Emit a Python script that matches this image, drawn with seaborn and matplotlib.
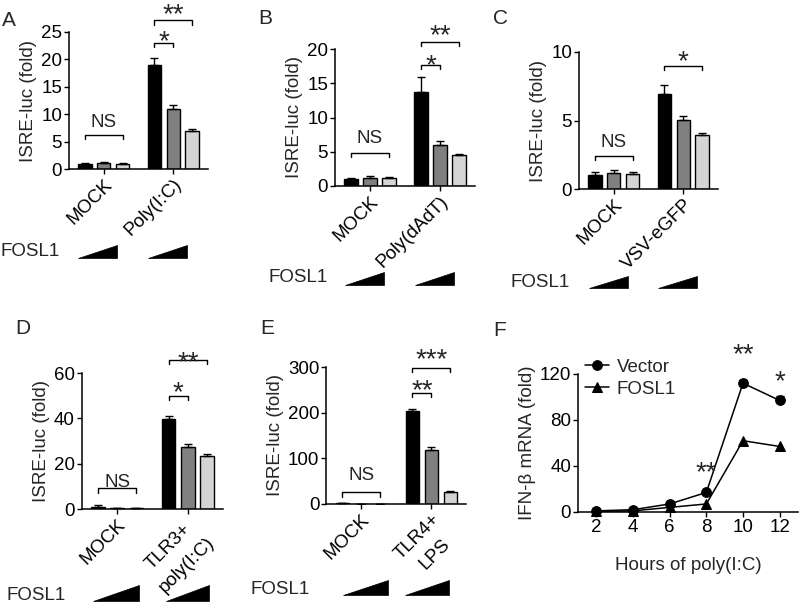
import numpy as np
import pandas as pd
import matplotlib
matplotlib.use('Agg')
import matplotlib.pyplot as plt
import matplotlib.transforms as mtransforms
from matplotlib.patches import Polygon
import seaborn as sns

sns.set_style('ticks')
plt.rcParams['font.family'] = ['Liberation Sans', 'DejaVu Sans']
plt.rcParams['font.size'] = 13.5
plt.rcParams['axes.linewidth'] = 1.0

FS = 13.5
DOSES = ['low', 'mid', 'high']
BAR_COLORS = ['#000000', '#808080', '#d4d4d4']

# ── data (group-major: each group = low, mid, high FOSL1) ─────────────────
a_groups = ['MOCK', 'Poly(I:C)']
a_mean = [1.0, 1.1, 1.0, 19.0, 11.0, 6.9]
a_err = [0.15, 0.15, 0.1, 1.2, 0.6, 0.35]

b_groups = ['MOCK', 'Poly(dAdT)']
b_mean = [1.0, 1.2, 1.1, 13.7, 6.0, 4.5]
b_err = [0.2, 0.2, 0.15, 2.2, 0.6, 0.15]

c_groups = ['MOCK', 'VSV-eGFP']
c_mean = [1.0, 1.15, 1.1, 6.9, 5.05, 3.95]
c_err = [0.25, 0.25, 0.15, 0.7, 0.3, 0.15]

d_groups = ['MOCK', 'TLR3+\npoly(I:C)']
d_mean = [1.0, 0.4, 0.4, 39.5, 27.3, 23.3]
d_err = [0.6, 0.2, 0.2, 1.5, 1.5, 1.0]

e_groups = ['MOCK', 'TLR4+\nLPS']
e_mean = [1.5, 0.5, 0.5, 204.0, 119.0, 27.0]
e_err = [0.5, 0.2, 0.2, 3.0, 5.0, 2.0]

f_hours = [2, 4, 6, 8, 10, 12]
f_vector = [1.0, 2.0, 7.0, 17.0, 112.0, 97.0]
f_vector_err = [0.3, 0.5, 1.0, 1.5, 3.0, 4.0]
f_fosl1 = [0.5, 1.0, 4.0, 7.0, 62.0, 57.0]
f_stars = ['**', '**', '*']
f_star_hours = [8, 10, 12]

W, H = 800, 604
fig = plt.figure(figsize=(8, 6.04), dpi=100)


def px_rect(l, r, top, bot):
    return [l / W, 1 - bot / H, (r - l) / W, (bot - top) / H]


def fig_text(x, y, s, **kw):
    fig.text(x / W, 1 - y / H, s, va='center', ha='left', **kw)


def style_ax(ax):
    sns.despine(ax=ax)
    ax.tick_params(direction='out', length=3.5, width=1, labelsize=FS, pad=1.5, colors='black')
    for sp in ['left', 'bottom']:
        ax.spines[sp].set_linewidth(1.1)
        ax.spines[sp].set_color('black')


def bar_panel(rect, groups, means, errs, ymax, ystep, brackets, tris):
    ax = fig.add_axes(rect)
    df = pd.DataFrame({'group': np.repeat(groups, 3),
                       'dose': DOSES * len(groups),
                       'value': means})
    sns.barplot(data=df, x='group', y='value', hue='dose', order=groups,
                hue_order=DOSES, palette=BAR_COLORS, width=0.81, gap=0.3,
                edgecolor='black', linewidth=1, errorbar=None, legend=False, ax=ax)
    bars = [list(c) for c in ax.containers]
    centers = [[b.get_x() + b.get_width() / 2 for b in c] for c in bars]
    for k in range(len(bars)):
        for g in range(len(groups)):
            ax.errorbar(centers[k][g], means[3 * g + k], yerr=[[0], [errs[3 * g + k]]],
                        fmt='none', ecolor='black', elinewidth=1, capsize=3, capthick=1)
    ax.set_ylim(0, ymax)
    ax.set_yticks(np.arange(0, ymax + ystep / 2, ystep))
    ax.set_xlim(-0.5, 1.5)
    ax.set_xlabel('')
    ax.set_ylabel('ISRE-luc (fold)', fontsize=FS, labelpad=3)
    ax.set_xticks(range(len(groups)))
    ax.set_xticklabels(groups, rotation=45, ha='right', rotation_mode='anchor',
                       multialignment='center', linespacing=1.6)
    style_ax(ax)

    # significance brackets: (group, bar i, bar j, bracket y, leg y, text, text baseline y)
    for g, i, j, y, leg, txt, ty in brackets:
        x1, x2 = centers[i][g], centers[j][g]
        ax.plot([x1, x1, x2, x2], [leg, y, y, leg], color='black', lw=1, clip_on=False)
        fs = FS if txt == 'NS' else 20
        ax.text((x1 + x2) / 2, ty, txt, ha='center', va='baseline', fontsize=fs, clip_on=False)

    # FOSL1 dose wedges
    trans = mtransforms.blended_transform_factory(ax.transData, ax.transAxes)
    for g, (x0, x1, yb, yt) in enumerate(tris):
        ax.add_patch(Polygon([(g + x0, yb), (g + x1, yb), (g + x1, yt)], closed=True,
                             facecolor='black', edgecolor='black', lw=0.5,
                             transform=trans, clip_on=False))
    return ax


# ── A ─────────────────────────────────────────────────────────────────────
bar_panel(px_rect(69, 208, 32, 169), a_groups, a_mean, a_err, 25, 5,
          [(0, 0, 2, 6.2, 5.4, 'NS', 7.7),
           (1, 0, 1, 23.05, 22.2, '*', 21.8),
           (1, 0, 2, 27.1, 26.3, '**', 26.7)],
          [(-0.367, 0.196, -0.647, -0.555)] * 2)
fig_text(1, 251, 'FOSL1', fontsize=FS)
fig_text(2, 20, 'A', fontsize=15)

# ── B ─────────────────────────────────────────────────────────────────────
bar_panel(px_rect(335, 475, 49, 186), b_groups, b_mean, b_err, 20, 5,
          [(0, 0, 2, 4.86, 4.28, 'NS', 6.23),
           (1, 0, 1, 17.66, 17.08, '*', 16.4),
           (1, 0, 2, 21.07, 20.4, '**', 20.8)],
          [(-0.356, 0.206, -0.72, -0.63)] * 2)
fig_text(268, 277, 'FOSL1', fontsize=FS)
fig_text(258, 19, 'B', fontsize=15)

# ── C ─────────────────────────────────────────────────────────────────────
bar_panel(px_rect(579, 718, 52, 189), c_groups, c_mean, c_err, 10, 5,
          [(0, 0, 2, 2.41, 2.12, 'NS', 3.09),
           (1, 0, 2, 9.0, 8.69, '*', 8.78)],
          [(-0.36, 0.2, -0.725, -0.635)] * 2)
fig_text(511, 282, 'FOSL1', fontsize=FS)
fig_text(493, 19, 'C', fontsize=15)

# ── D ─────────────────────────────────────────────────────────────────────
bar_panel(px_rect(81.7, 223.3, 373, 509), d_groups, d_mean, d_err, 60, 20,
          [(0, 0, 2, 9.1, 7.2, 'NS', 9.85),
           (1, 0, 1, 49.85, 48.1, '*', 47.9),
           (1, 0, 2, 65.7, 63.8, '**', 61.2)],
          [(-0.34, 0.305, -0.68, -0.56), (-0.31, 0.305, -0.68, -0.56)])
fig_text(7, 595, 'FOSL1', fontsize=FS)
fig_text(15, 328, 'D', fontsize=15)

# ── E ─────────────────────────────────────────────────────────────────────
bar_panel(px_rect(326.3, 466.3, 367, 504), e_groups, e_mean, e_err, 300, 100,
          [(0, 0, 2, 25.5, 16, 'NS', 52.6),
           (1, 0, 1, 242.3, 233.6, '**', 230.6),
           (1, 0, 2, 298.5, 289.7, '***', 300)],
          [(-0.257, 0.386, -0.664, -0.555), (-0.376, 0.257, -0.664, -0.555)])
fig_text(251, 589, 'FOSL1', fontsize=FS)
fig_text(260, 328, 'E', fontsize=15)

# ── F ─────────────────────────────────────────────────────────────────────
axf = fig.add_axes(px_rect(578, 798, 374, 512))
fdf = pd.DataFrame({'hours': f_hours * 2,
                    'value': f_vector + f_fosl1,
                    'group': ['Vector'] * len(f_hours) + ['FOSL1'] * len(f_hours)})
sns.lineplot(data=fdf, x='hours', y='value', hue='group', style='group',
             hue_order=['Vector', 'FOSL1'], style_order=['Vector', 'FOSL1'],
             palette=['black', 'black'], markers={'Vector': 'o', 'FOSL1': '^'},
             dashes=False, markersize=7, markeredgecolor='black', linewidth=1.1,
             ax=axf, clip_on=False)
axf.errorbar(f_hours, f_vector, yerr=[[0] * len(f_hours), f_vector_err], fmt='none',
             ecolor='black', elinewidth=1, capsize=3, capthick=1, clip_on=False)
star_base = [27.6, 130.4, 107.2]
for hr, s, yb in zip(f_star_hours, f_stars, star_base):
    axf.text(hr, yb, s, ha='center', va='baseline', fontsize=20, clip_on=False)
axf.set_xlim(1, 13)
axf.set_ylim(0, 120)
axf.set_xticks(f_hours)
axf.set_yticks([0, 40, 80, 120])
axf.set_xlabel('Hours of poly(I:C)', fontsize=FS, labelpad=15)
axf.set_ylabel('IFN-β mRNA (fold)', fontsize=FS, labelpad=3)
style_ax(axf)
handles, labels = axf.get_legend_handles_labels()
axf.legend(handles, labels, loc='upper left', bbox_to_anchor=(0.03, 1.11),
           frameon=False, fontsize=FS, handlelength=1.3, handletextpad=0.4,
           borderpad=0, borderaxespad=0, labelspacing=0.25)
fig_text(493, 331, 'F', fontsize=15)

fig.savefig('out.png', dpi=100, facecolor='white')
plt.close()
